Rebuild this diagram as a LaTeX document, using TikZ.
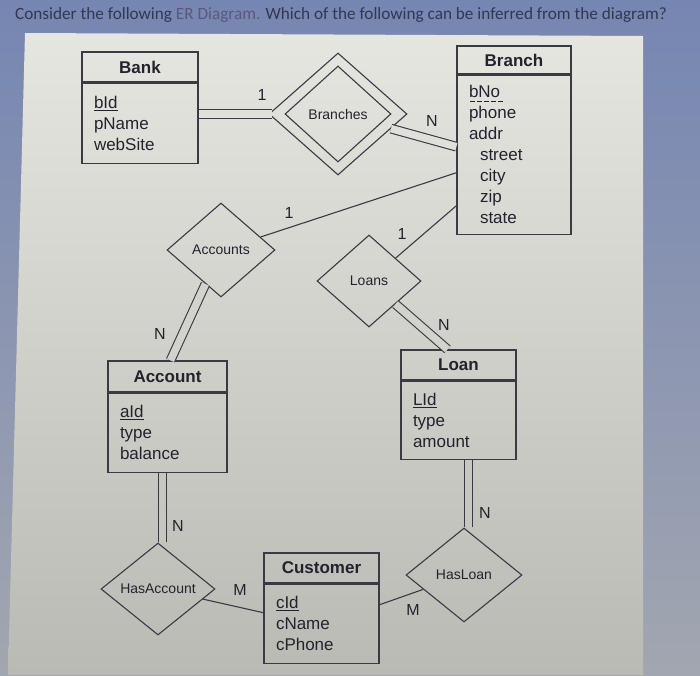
\documentclass[tikz,border=0pt]{standalone}
\usepackage{fontspec}
\setmainfont{Liberation Sans}
\newfontfamily\questfont{Carlito}
\usetikzlibrary{shapes.geometric, positioning}
\definecolor{screenblue}{RGB}{118, 134, 178}
\definecolor{screenlow}{RGB}{162, 166, 176}
\definecolor{paneltop}{RGB}{230, 230, 225}
\definecolor{panelbot}{RGB}{186, 186, 180}
\definecolor{dblhigh}{RGB}{224, 224, 219}
\definecolor{dblmid}{RGB}{211, 211, 206}
\definecolor{dbllow}{RGB}{199, 199, 194}
\definecolor{inkgray}{RGB}{58, 58, 68}
\definecolor{textdark}{RGB}{35, 35, 45}
\definecolor{questink}{RGB}{50, 55, 82}
\definecolor{questlink}{RGB}{92, 88, 125}

\newcommand{\keyattr}[1]{\underline{#1}}
\newcommand{\partkey}[1]{\setbox0\hbox{#1}%
  \rlap{\raisebox{-4pt}{\hbox to \dimexpr\wd0+6pt\relax{\leaders\hbox to 7pt{\hss\rule{4.5pt}{1pt}\hss}\hfill}}}#1}

\begin{document}
\begin{tikzpicture}[
  x=1pt,
  y=-1pt,
  every node/.style={text=textdark},
  enthead/.style={draw=inkgray, line width=1.2pt, minimum height=30pt, inner sep=0pt,
                  font=\bfseries\fontsize{17}{20}\selectfont},
  entattr/.style={draw=inkgray, line width=1.2pt, inner xsep=12pt, inner ysep=0pt,
                  align=left, font=\fontsize{17}{21}\selectfont},
  reldiamond/.style={diamond, draw=inkgray, line width=1.1pt, inner sep=0pt,
                     font=\fontsize{14}{16}\selectfont},
  card/.style={font=\fontsize{16}{18}\selectfont, inner sep=0pt},
  link/.style={draw=inkgray, line width=1.1pt},
  dbl/.style={link, double=#1, double distance=7.5pt}
]

\useasboundingbox (0,0) rectangle (700,675);
\shade[top color=screenblue, bottom color=screenlow] (0,0) rectangle (700,675);
\shade[top color=paneltop, bottom color=panelbot]
  (25,33) -- (643,36) -- (643,675) -- (8,675) -- cycle;

\node[anchor=west, inner sep=0pt, text=questink, font=\questfont\fontsize{17.2}{19}\selectfont]
  (question) at (15,15)
  {Consider the following \textcolor{questlink}{ER Diagram.} Which of the following can be inferred from the diagram?};

% entities
\node[enthead, minimum width=116pt] (bank) at (140,67) {Bank};
\node[entattr, text width=92pt, minimum height=80pt, below=0pt of bank] (bankattr)
  {\keyattr{bId}\\pName\\webSite};

\node[enthead, minimum width=114pt, minimum height=28pt] (branch) at (514,60) {Branch};
\node[entattr, text width=90pt, minimum height=159pt, below=0pt of branch] (branchattr)
  {\partkey{bNo}\\phone\\addr\\\hspace*{11pt}street\\\hspace*{11pt}city\\\hspace*{11pt}zip\\\hspace*{11pt}state};

\node[enthead, minimum width=119pt, minimum height=31pt] (account) at (167.5,376.5) {Account};
\node[entattr, text width=95pt, minimum height=79pt, below=0pt of account] (accountattr)
  {\keyattr{aId}\\type\\balance};

\node[enthead, minimum width=115pt] (loan) at (458.5,365) {Loan};
\node[entattr, text width=91pt, minimum height=78pt, below=0pt of loan] (loanattr)
  {\keyattr{LId}\\type\\amount};

\node[enthead, minimum width=115pt] (customer) at (321.5,568) {Customer};
\node[entattr, text width=91pt, minimum height=79pt, below=0pt of customer] (customerattr)
  {\keyattr{cId}\\cName\\cPhone};

% relationships
\node[reldiamond, minimum width=138pt, minimum height=122pt] (branchesout) at (338,114) {};
\node[reldiamond, minimum width=106pt, minimum height=96pt] (branches) at (338,114) {Branches};
\node[reldiamond, minimum width=108pt, minimum height=94pt] (accounts) at (221,250) {Accounts};
\node[reldiamond, minimum width=104pt, minimum height=92pt] (loans) at (369,281) {Loans};
\node[reldiamond, minimum width=114pt, minimum height=92pt] (hasaccount) at (158,589) {HasAccount};
\node[reldiamond, minimum width=116pt, minimum height=94pt] (hasloan) at (464,575) {HasLoan};

% connectors
\draw[dbl=dblhigh, shorten >=-4pt] (bankattr.east |- branchesout.west) -- (branchesout.west);
\draw[dbl=dblhigh] (branchesout) -- ([yshift=8pt]branchattr.west);
\draw[link] (accounts) -- ([yshift=-18pt]branchattr.west);
\draw[link] (loans) -- ([yshift=-51pt]branchattr.west);
\draw[dbl=dblmid] (loans) -- ([xshift=-11pt]loan.north);
\draw[dbl=dblmid] (accounts) -- ([xshift=3pt]account.north);
\draw[dbl=dbllow] ([xshift=-5pt]accountattr.south) -- ([xshift=-5pt]accountattr.south |- hasaccount.north);
\draw[link] (hasaccount) -- ([yshift=11pt]customerattr.west);
\draw[link] ([yshift=19pt]customerattr.east) -- (hasloan);
\draw[dbl=dbllow] ([xshift=10pt]loanattr.south) -- ([xshift=10pt]loanattr.south |- hasloan.north);

% cardinalities
\node[card] (cardbank) at (262,95) {1};
\node[card] (cardbranch) at (432,121) {N};
\node[card] (cardaccbr) at (289,213) {1};
\node[card] (cardloanbr) at (402,234) {1};
\node[card] (cardaccount) at (160,334) {N};
\node[card] (cardloan) at (444,325) {N};
\node[card] (cardhasacc) at (178,526) {N};
\node[card] (cardcustacc) at (240,590) {M};
\node[card] (cardcustloan) at (413,610) {M};
\node[card] (cardhasloan) at (485,513) {N};

\end{tikzpicture}
\end{document}
